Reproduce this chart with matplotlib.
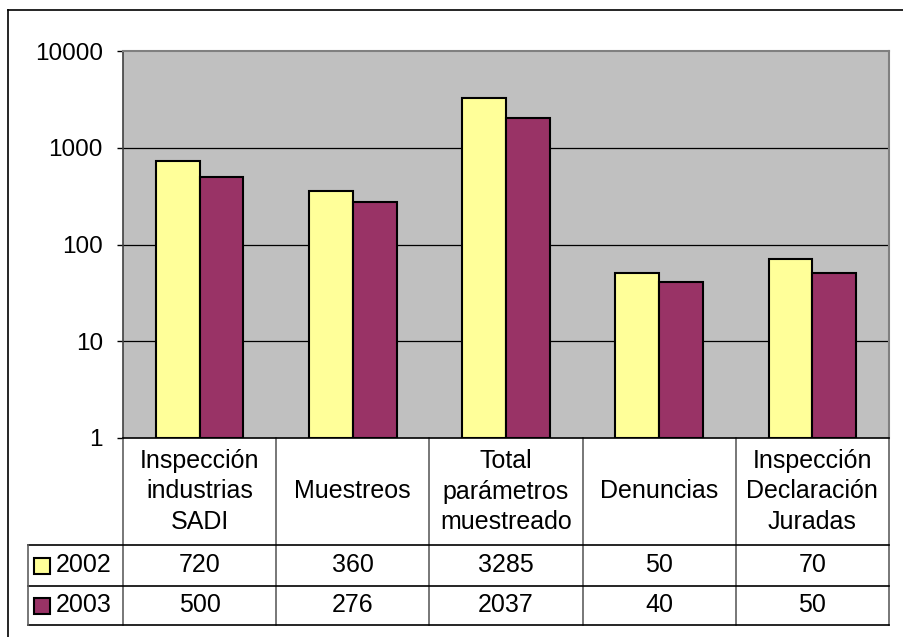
import numpy as np
import matplotlib
matplotlib.use("Agg")
import matplotlib.pyplot as plt
from matplotlib.transforms import blended_transform_factory
from matplotlib.patches import Rectangle
from matplotlib.lines import Line2D

plt.rcParams['font.family'] = ['Liberation Sans', 'DejaVu Sans']

categories = ["Inspección\nindustrias\nSADI", "Muestreos", "Total\nparámetros\nmuestreado",
              "Denuncias", "Inspección\nDeclaración\nJuradas"]
series_names = ["2002", "2003"]
values_2002 = [720, 360, 3285, 50, 70]
values_2003 = [500, 276, 2037, 40, 50]
series_values = [values_2002, values_2003]
colors = ["#FFFF99", "#993366"]
yticks = [1, 10, 100, 1000, 10000]
ytick_labels = ["1", "10", "100", "1000", "10000"]

FS = 18
FS_AX = 17.5
W, H = 904, 637
fig = plt.figure(figsize=(W / 100, H / 100), dpi=100)
fig.patch.set_facecolor("white")

def fx(px):
    return px / W

def fy(py):
    return 1 - py / H

L, R, T, B = 123, 889, 51, 438
ax = fig.add_axes([fx(L), fy(B), fx(R) - fx(L), fy(T) - fy(B)])
ax.set_facecolor("#C0C0C0")
ax.set_yscale("log")
ax.set_ylim(1, 10000)
n = len(categories)
ax.set_xlim(-0.5, n - 0.5)
x = np.arange(n)
w = 0.286
for i, (vals, c) in enumerate(zip(series_values, colors)):
    ax.bar(x + (i - 0.5) * w, vals, width=w, bottom=1, color=c, edgecolor="black",
           linewidth=1.5, zorder=3)
ax.set_yticks(yticks)
ax.set_yticklabels(ytick_labels)
ax.yaxis.set_minor_locator(matplotlib.ticker.NullLocator())
ax.tick_params(axis="y", length=4.5, width=1, pad=10, labelsize=FS_AX, colors="black")
ax.set_xticks([])
for yv in yticks[1:-1]:
    ax.axhline(yv, color="black", linewidth=0.9, zorder=1)
for s in ["top", "right"]:
    ax.spines[s].set_color("#808080")
    ax.spines[s].set_linewidth(1.5)
ax.spines["left"].set_color("#404040")
ax.spines["left"].set_linewidth(1.2)
ax.spines["bottom"].set_color("black")
ax.spines["bottom"].set_linewidth(1.2)

# Data table
tr = blended_transform_factory(ax.transData, fig.transFigure)
row_top, row1, row2, row3 = 438, 545, 586, 625
legend_left = 28
for yy in [row1, row2, row3]:
    fig.add_artist(Line2D([fx(legend_left), fx(R)], [fy(yy), fy(yy)], color="black", lw=1.2))
for b in np.arange(n + 1) - 0.5:
    ax.plot([b, b], [fy(row_top), fy(row3)], transform=tr, color="#606060", lw=1.2,
            clip_on=False)
fig.add_artist(Line2D([fx(legend_left), fx(legend_left)], [fy(row1), fy(row3)], color="#606060", lw=1.2))

for i, cat in enumerate(categories):
    ax.text(i, fy((row_top + row1) / 2), cat, transform=tr, ha="center", va="center",
            fontsize=FS, linespacing=1.35, clip_on=False)
    for r, (vals, (ya, yb)) in enumerate(zip(series_values, [(row1, row2), (row2, row3)])):
        ax.text(i, fy((ya + yb) / 2), str(vals[i]), transform=tr, ha="center",
                va="center", fontsize=FS, clip_on=False)

for r, (name, c, (ya, yb)) in enumerate(zip(series_names, colors, [(row1, row2), (row2, row3)])):
    yc = (ya + yb) / 2
    fig.add_artist(Rectangle((fx(34), fy(yc + 8)), fx(16), 16 / H, facecolor=c,
                             edgecolor="black", lw=1.5, transform=fig.transFigure))
    fig.text(fx(56), fy(yc), name, ha="left", va="center", fontsize=FS)

# Outer border
fig.add_artist(Line2D([fx(8), fx(W + 5)], [fy(10), fy(10)], color="black", lw=1.2))
fig.add_artist(Line2D([fx(8), fx(8)], [fy(10), fy(H + 5)], color="black", lw=1.2))

fig.savefig("out.png", dpi=100)
